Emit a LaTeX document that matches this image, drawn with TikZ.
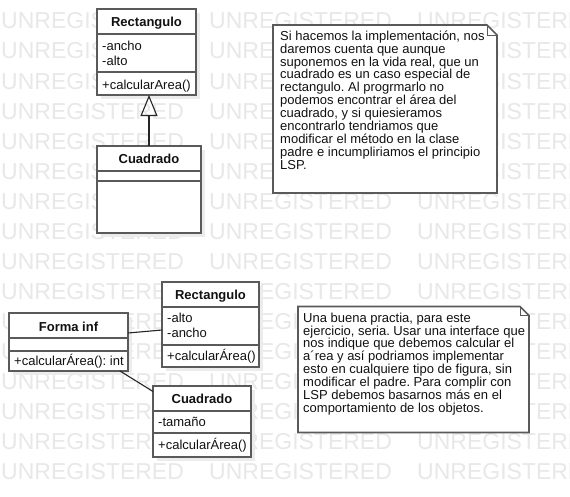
\documentclass[tikz,border=0pt]{standalone}
\usepackage{fontspec}
\setmainfont{Liberation Sans}
\usetikzlibrary{arrows.meta}
\frenchspacing
\definecolor{bordc}{HTML}{5A5A5A}
\definecolor{wmc}{HTML}{E8E8E8}
\definecolor{shc}{HTML}{ECECEC}
\definecolor{txtc}{HTML}{111111}
\begin{document}
\begin{tikzpicture}[x=1pt,y=-1pt,
 cls/.style={draw=bordc, line width=1.6pt, fill=white, anchor=north west, inner sep=0pt, outer sep=0pt,
   preaction={fill=shc, draw=none, transform canvas={xshift=4pt,yshift=-4pt}}},
 ttl/.style={font=\bfseries\fontsize{13}{13}\selectfont, inner sep=0pt, text=txtc, text height=9.4pt, text depth=0pt},
 mem/.style={font=\fontsize{13}{15}\selectfont, inner sep=0pt, anchor=west, text=txtc, text height=9.4pt, text depth=0pt},
 sepline/.style={draw=bordc, line width=1.6pt},
 notebg/.style={inner sep=0pt, outer sep=0pt, anchor=north west},
 noteline/.style={draw=bordc, line width=1.6pt, line join=miter, fill=white},
 notetext/.style={font=\fontsize{13}{12.9}\selectfont, align=left, inner sep=0pt, anchor=north west, text=txtc},
 assoc/.style={draw=black!85, line width=1.1pt},
 wm/.style={font=\fontsize{23}{23}\selectfont, text=wmc, inner sep=0pt, anchor=west}
]
\useasboundingbox (0,0) rectangle (570,496);
\fill[white] (0,0) rectangle (570,496);
\begin{scope}
\clip (0,0) rectangle (570,496);
\foreach \j in {0,...,15}{
 \foreach \k in {0,1,2}{
   \node[wm] (wm-\j-\k) at ({1+208*\k},{21+30.07*\j}) {UNREGISTERED};
 }}
\end{scope}

% ---------- top: Rectangulo ----------
\node[cls, minimum width=99pt, minimum height=86pt] (R1) at (97,9) {};
\draw[sepline] (97,34) -- (196,34);
\draw[sepline] (97,72) -- (196,72);
\node[ttl] (R1t) at (146.5,22) {Rectangulo};
\node[mem] (R1a) at (102,45.7) {-ancho};
\node[mem] (R1b) at (102,61) {-alto};
\node[mem] (R1m) at (102,84.5) {+calcularArea()};

% ---------- top: Cuadrado ----------
\node[cls, minimum width=104pt, minimum height=87pt] (C1) at (97,146) {};
\draw[sepline] (97,171) -- (201,171);
\draw[sepline] (97,181) -- (201,181);
\node[ttl] (C1t) at (149,158.5) {Cuadrado};

\draw[assoc, -{Triangle[open, length=21pt, width=17pt]}] (C1.north) -- (C1.north |- R1.south);

% ---------- note 1 ----------
\node[notebg, minimum width=224pt, minimum height=168pt] (N1) at (273,25) {};
\draw[noteline] (N1.north west) -- ([xshift=-10pt]N1.north east) -- ([yshift=-10pt]N1.north east) -- (N1.south east) -- (N1.south west) -- cycle;
\draw[draw=bordc, line width=1pt] ([xshift=-10pt]N1.north east) -- ([xshift=-10pt,yshift=-10pt]N1.north east) -- ([yshift=-10pt]N1.north east);
\node[notetext] (N1x) at (280,30.5) {Si hacemos la implementación, nos\\
daremos cuenta que aunque\\
suponemos en la vida real, que un\\
cuadrado es un caso especial de\\
rectangulo. Al progrmarlo no\\
podemos encontrar el área del\\
cuadrado, y si quiesieramos\\
encontrarlo tendriamos que\\
modificar el método en la clase\\
padre e incumpliriamos el principio\\
LSP.};

% ---------- bottom: Forma inf ----------
\node[cls, minimum width=119pt, minimum height=58pt] (F) at (9,313) {};
\draw[sepline] (9,338) -- (128,338);
\draw[sepline] (9,351) -- (128,351);
\node[ttl] (Ft) at (68.5,326.5) {Forma inf};
\node[mem] (Fm) at (14,361) {+calcularÁrea(): int};

% ---------- bottom: Rectangulo ----------
\node[cls, minimum width=97pt, minimum height=85pt] (R2) at (162,282) {};
\draw[sepline] (162,307) -- (259,307);
\draw[sepline] (162,345) -- (259,345);
\node[ttl] (R2t) at (210.5,295) {Rectangulo};
\node[mem] (R2a) at (167,318) {-alto};
\node[mem] (R2b) at (167,333) {-ancho};
\node[mem] (R2m) at (167,356) {+calcularÁrea()};

% ---------- bottom: Cuadrado ----------
\node[cls, minimum width=98pt, minimum height=71pt] (C2) at (153,386) {};
\draw[sepline] (153,411) -- (251,411);
\draw[sepline] (153,433) -- (251,433);
\node[ttl] (C2t) at (202,399) {Cuadrado};
\node[mem] (C2a) at (158,422) {-tamaño};
\node[mem] (C2m) at (158,445) {+calcularÁrea()};

\draw[assoc] ([yshift=9pt]F.east) -- ([yshift=-5.5pt]R2.west);
\draw[assoc] ([xshift=51.5pt]F.south) -- ([yshift=-5.5pt]C2.north west);

% ---------- note 2 ----------
\node[notebg, minimum width=231pt, minimum height=126pt] (N2) at (298,306.5) {};
\draw[noteline] (N2.north west) -- ([xshift=-9pt]N2.north east) -- ([yshift=-9pt]N2.north east) -- (N2.south east) -- (N2.south west) -- cycle;
\draw[draw=bordc, line width=1pt] ([xshift=-9pt]N2.north east) -- ([xshift=-9pt,yshift=-9pt]N2.north east) -- ([yshift=-9pt]N2.north east);
\node[notetext] (N2x) at (303,312.5) {Una buena practia, para este\\
ejercicio, seria. Usar una interface que\\
nos indique que debemos calcular el\\
a´rea y así podriamos implementar\\
esto en cualquiere tipo de figura, sin\\
modificar el padre. Para complir con\\
LSP debemos basarnos más en el\\
comportamiento de los objetos.};
\end{tikzpicture}
\end{document}
